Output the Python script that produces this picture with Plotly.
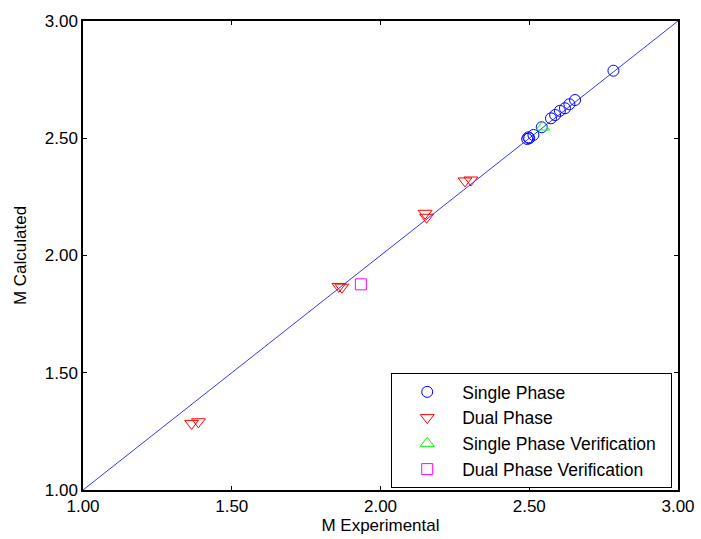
import plotly.graph_objects as go

# Data
single_x = [2.783, 2.654, 2.635, 2.620, 2.603, 2.587, 2.573, 2.542, 2.514, 2.497, 2.500, 2.493]
single_y = [2.788, 2.663, 2.645, 2.628, 2.617, 2.599, 2.585, 2.547, 2.514, 2.504, 2.500, 2.497]

dual_x = [2.284, 2.304, 2.150, 2.155, 1.860, 1.870, 1.365, 1.388]
dual_y = [2.318, 2.322, 2.180, 2.163, 1.868, 1.865, 1.284, 1.291]

sv_x = [2.546]
sv_y = [2.548]

dv_x = [1.934]
dv_y = [1.877]

line_x = [1.0, 3.0]
line_y = [1.0, 3.0]

tick_vals = [1.0, 1.5, 2.0, 2.5, 3.0]
tick_text = ["1.00", "1.50", "2.00", "2.50", "3.00"]

font_family = "Liberation Sans, Arial, sans-serif"

fig = go.Figure()
fig.add_trace(go.Scatter(x=line_x, y=line_y, mode="lines",
                         line=dict(color="#0000ff", width=0.8),
                         showlegend=False, hoverinfo="skip"))
fig.add_trace(go.Scatter(x=single_x, y=single_y, mode="markers", name="Single Phase",
                         marker=dict(symbol="circle-open", size=11, color="#0000ff",
                                     line=dict(width=1))))
fig.add_trace(go.Scatter(x=dual_x, y=dual_y, mode="markers", name="Dual Phase",
                         marker=dict(symbol="triangle-down-open", size=12, color="#ff0000",
                                     line=dict(width=1))))
fig.add_trace(go.Scatter(x=sv_x, y=sv_y, mode="markers",
                         name="Single Phase Verification\u00a0\u00a0",
                         marker=dict(symbol="triangle-up-open", size=12, color="#00ff00",
                                     line=dict(width=1))))
fig.add_trace(go.Scatter(x=dv_x, y=dv_y, mode="markers", name="Dual Phase Verification",
                         marker=dict(symbol="square-open", size=11, color="#ff00ff",
                                     line=dict(width=1))))

axis_common = dict(range=[1, 3], tickvals=tick_vals, ticktext=tick_text,
                   ticks="inside", ticklen=4, tickcolor="black",
                   showline=True, linecolor="black", linewidth=1.5, mirror="ticks",
                   showgrid=False, zeroline=False, automargin=False,
                   tickfont=dict(size=17, color="black", family=font_family))

fig.update_xaxes(**axis_common,
                 title=dict(text="M Experimental", standoff=4,
                            font=dict(size=17, color="black", family=font_family)))
fig.update_yaxes(**axis_common,
                 title=dict(text="M Calculated", standoff=14,
                            font=dict(size=17, color="black", family=font_family)))

fig.update_layout(
    width=701, height=539,
    margin=dict(l=83, r=23, t=21, b=49),
    paper_bgcolor="white", plot_bgcolor="white",
    font=dict(family=font_family, color="black"),
    legend=dict(x=0.518, y=0.2495, xanchor="left", yanchor="top",
                bordercolor="black", borderwidth=1, bgcolor="white",
                font=dict(size=17.5, color="black", family=font_family),
                itemwidth=60, tracegroupgap=0),
)

fig.write_html("out.html")
